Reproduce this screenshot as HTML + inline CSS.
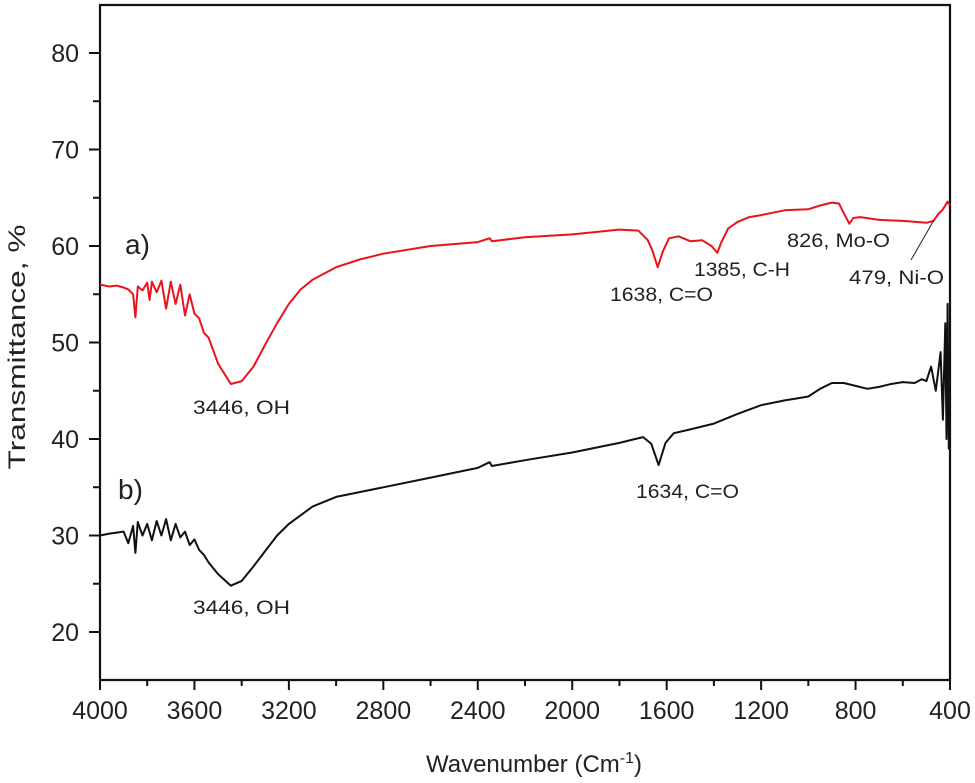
<!DOCTYPE html>
<html><head><meta charset="utf-8"><style>
html,body{margin:0;padding:0;background:#fff;}
svg{display:block;}
text{font-family:"Liberation Sans",sans-serif;}
</style></head><body>
<svg id="chart" width="975" height="783" viewBox="0 0 975 783" xmlns="http://www.w3.org/2000/svg">
<g id="axes"></g><g id="series"></g><g id="annots"></g>
</svg>
<script>
const xTicks=[4000,3600,3200,2800,2400,2000,1600,1200,800,400];
const yTicks=[20,30,40,50,60,70,80];
const waveA=[4000,3960,3930,3900,3880,3860,3850,3840,3820,3800,3790,3780,3760,3740,3720,3700,3680,3660,3640,3620,3600,3580,3560,3540,3500,3446,3400,3350,3300,3250,3200,3150,3100,3000,2900,2800,2600,2400,2350,2340,2200,2000,1800,1720,1680,1660,1638,1615,1590,1550,1500,1450,1410,1385,1370,1340,1300,1250,1200,1100,1000,950,900,870,850,826,810,780,700,600,500,470,450,430,410,400];
const valA=[56,55.8,55.9,55.7,55.5,55,52.6,55.8,55.4,56.2,54.4,56.3,55.2,56.4,53.5,56.3,54,56,52.8,55,53,52.5,51,50.5,47.8,45.7,46,47.5,49.8,52,54,55.5,56.5,57.8,58.6,59.2,60,60.4,60.8,60.5,60.9,61.2,61.7,61.6,60.6,59.5,57.8,59.5,60.8,61,60.5,60.6,60,59.3,60.3,61.8,62.5,63,63.2,63.7,63.8,64.2,64.5,64.4,63.4,62.3,62.9,63,62.7,62.6,62.4,62.6,63.3,63.8,64.6,64.2];
const waveB=[4000,3960,3930,3900,3880,3860,3850,3840,3820,3800,3780,3760,3740,3720,3700,3680,3660,3640,3620,3600,3580,3560,3540,3500,3446,3400,3350,3300,3250,3200,3100,3000,2800,2600,2400,2350,2340,2200,2000,1800,1700,1665,1634,1605,1570,1500,1400,1300,1200,1100,1050,1000,950,900,850,800,750,700,650,600,550,520,500,480,460,440,430,420,415,410,405,400];
const valB=[30,30.2,30.3,30.4,29.2,31,28.2,31.4,30,31.2,29.5,31.5,30,31.7,29.5,31.2,29.8,30.4,29,29.6,28.5,28,27.2,26,24.8,25.3,26.8,28.4,30,31.2,33,34,35,36,37,37.6,37.2,37.8,38.6,39.6,40.2,39.5,37.3,39.6,40.6,41,41.6,42.6,43.5,44,44.2,44.4,45.2,45.8,45.8,45.5,45.2,45.4,45.7,45.9,45.8,46.2,46,47.5,45,49,42,52,40,54,39,46];
const X0=100,X1=950,Y20=632,PX=9.65;
function xs(w){return X0+(4000-w)/3600*(X1-X0);}
function ys(v){return Y20-(v-20)*PX;}
const NS='http://www.w3.org/2000/svg';
function mk(tag,attrs,parent,txt){const e=document.createElementNS(NS,tag);for(const k in attrs)e.setAttribute(k,attrs[k]);if(txt!=null)e.textContent=txt;parent.appendChild(e);return e;}
const axes=document.getElementById('axes');
let fr=mk('path',{d:`M${X0} 680 L${X0} 5 L${X1} 5 L${X1} 680 Z`,fill:'none',stroke:'#111','stroke-width':2.2},axes);


for(let w=4000;w>=400;w-=200){const maj=(w%400===0);
 let t=mk('line',{x1:xs(w),x2:xs(w),y1:680,y2:maj?690:686,stroke:'#111','stroke-width':2},axes);
 
 }
xTicks.forEach(w=>{let t=mk('text',{x:xs(w),y:719,'text-anchor':'middle','font-size':25,fill:'#222'},axes,String(w));
 
 });
for(let v=15;v<=85;v+=5){const y=ys(v);if(y<5||y>680)continue;const maj=(v%10===0);
 let t=mk('line',{x1:maj?89:93,x2:X0,y1:y,y2:y,stroke:'#111','stroke-width':2},axes);
 
 }
yTicks.forEach(v=>{let t=mk('text',{x:79,y:ys(v)+9,'text-anchor':'end','font-size':25,fill:'#222'},axes,String(v));
 
 });
let yt=mk('text',{x:0,y:0,transform:'translate(25,347) rotate(-90)','text-anchor':'middle','font-size':24,fill:'#222',textLength:245,lengthAdjust:'spacingAndGlyphs'},axes,'Transmittance, %');


let xt=mk('text',{x:534,y:772,'text-anchor':'middle','font-size':24,fill:'#222'},axes,'Wavenumber (Cm');


mk('tspan',{dy:-9,'font-size':16},xt,'-1');
mk('tspan',{dy:9},xt,')');
const ser=document.getElementById('series');
function line(ws,vs,col,name){let d=ws.map((w,i)=>(i?'L':'M')+xs(w).toFixed(1)+' '+ys(vs[i]).toFixed(1)).join(' ');
 let p=mk('path',{d:d,fill:'none',stroke:col,'stroke-width':2,'stroke-linejoin':'round'},ser);
 
 }
line(waveA,valA,'#e8141c','series-a-line');
line(waveB,valB,'#111','series-b-line');
const an=document.getElementById('annots');
function lab(x,y,s,name,size,len){let a={x:x,y:y,'font-size':size||19,fill:'#222'};if(len){a.textLength=len;a.lengthAdjust='spacingAndGlyphs';}
 let t=mk('text',a,an,s);
 
 }
lab(125,254,'a)','label-a',28);
lab(118,499,'b)','label-b',28);
lab(193,414,'3446, OH','annot-a-oh',19,97);
lab(193,614,'3446, OH','annot-b-oh',19,97);
lab(610,301,'1638, C=O','annot-a-co',19,103);
lab(694,276,'1385, C-H','annot-a-ch',19,96);
lab(787,247,'826, Mo-O','annot-a-moo',19,103);
lab(849,284,'479, Ni-O','annot-a-nio',19,95);
lab(636,498,'1634, C=O','annot-b-co',19,103);
let ll=mk('line',{x1:911,y1:260,x2:934,y2:220,stroke:'#222','stroke-width':1},an);


</script>
</body></html>
